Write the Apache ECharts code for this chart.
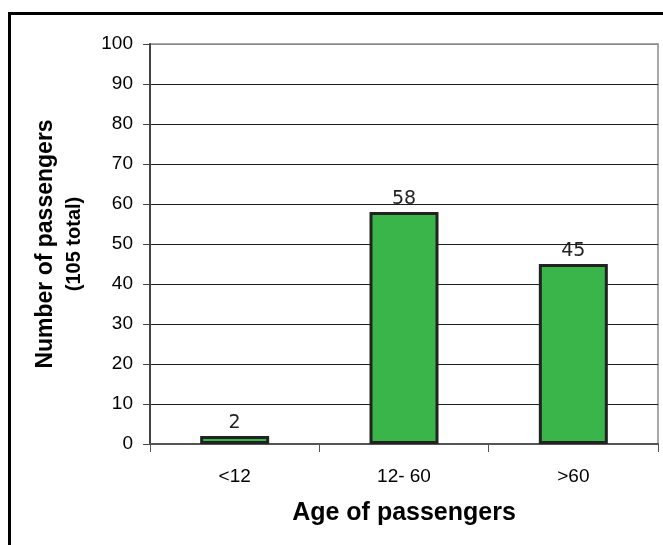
<!DOCTYPE html>
<html>
<head>
<meta charset="utf-8">
<style>
  html, body { margin: 0; padding: 0; background: #fff; }
  #chart { width: 663px; height: 545px; }
</style>
<script src="https://cdn.jsdelivr.net/npm/echarts@6/dist/echarts.min.js"></script>
</head>
<body>
<div id="chart"></div>
<script>
// Passenger counts by age group
const ageGroups = ['<12', '12- 60', '>60'];
const passengerCounts = [2, 58, 45];
const yTicks = { min: 0, max: 100, interval: 10 };

const gridLineColors = [];
for (let v = yTicks.min; v <= yTicks.max; v += yTicks.interval) {
  gridLineColors.push(v === yTicks.max ? '#8c8c8c' : '#1e1e1e');
}

const chart = echarts.init(document.getElementById('chart'), null, { renderer: 'canvas' });

chart.setOption({
  backgroundColor: '#ffffff',
  animation: false,
  grid: {
    left: 150, top: 44, right: 5, bottom: 101,
    show: true,
    borderColor: '#a8a8a8',
    borderWidth: 2,
    backgroundColor: 'transparent'
  },
  graphic: [{
    type: 'polyline',
    shape: { points: [[9.5, 545], [9.5, 13.5], [663, 13.5]] },
    style: { stroke: '#000', lineWidth: 3, fill: null },
    silent: true
  }],
  xAxis: {
    type: 'category',
    data: ageGroups,
    boundaryGap: true,
    axisLine: { show: true, lineStyle: { color: '#555', width: 2 } },
    axisTick: { show: true, length: 8, lineStyle: { color: '#555', width: 1 } },
    axisLabel: {
      margin: 23,
      color: '#000',
      fontFamily: 'Liberation Sans, Arial, sans-serif',
      fontSize: 19
    },
    name: 'Age of passengers',
    nameLocation: 'middle',
    nameGap: 57,
    nameTextStyle: {
      color: '#000',
      fontFamily: 'Liberation Sans, Arial, sans-serif',
      fontWeight: 'bold',
      fontSize: 25
    }
  },
  yAxis: {
    type: 'value',
    min: yTicks.min,
    max: yTicks.max,
    interval: yTicks.interval,
    axisLine: { show: true, lineStyle: { color: '#444', width: 2 } },
    axisTick: { show: true, inside: false, length: 7, lineStyle: { color: '#444', width: 1 } },
    axisLabel: {
      margin: 17,
      color: '#000',
      fontFamily: 'Liberation Sans, Arial, sans-serif',
      fontSize: 19
    },
    splitLine: { show: true, lineStyle: { color: gridLineColors, width: 1 } },
    name: '{main|Number of passengers}\n{sub|(105 total)}',
    nameLocation: 'middle',
    nameRotate: 90,
    nameGap: 63,
    nameTextStyle: {
      align: 'center',
      rich: {
        main: {
          color: '#000',
          fontFamily: 'Liberation Sans, Arial, sans-serif',
          fontWeight: 'bold',
          fontSize: 23,
          lineHeight: 30,
          align: 'center'
        },
        sub: {
          color: '#000',
          fontFamily: 'Liberation Sans, Arial, sans-serif',
          fontWeight: 'bold',
          fontSize: 20,
          lineHeight: 26,
          align: 'center'
        }
      }
    }
  },
  series: [{
    type: 'bar',
    data: passengerCounts,
    barWidth: 69,
    itemStyle: {
      color: '#3ab54a',
      borderColor: '#222',
      borderWidth: 3
    },
    label: {
      show: true,
      position: 'top',
      distance: 3,
      color: '#222',
      fontFamily: 'DejaVu Sans, Verdana, sans-serif',
      fontSize: 19
    }
  }]
});
</script>
</body>
</html>
